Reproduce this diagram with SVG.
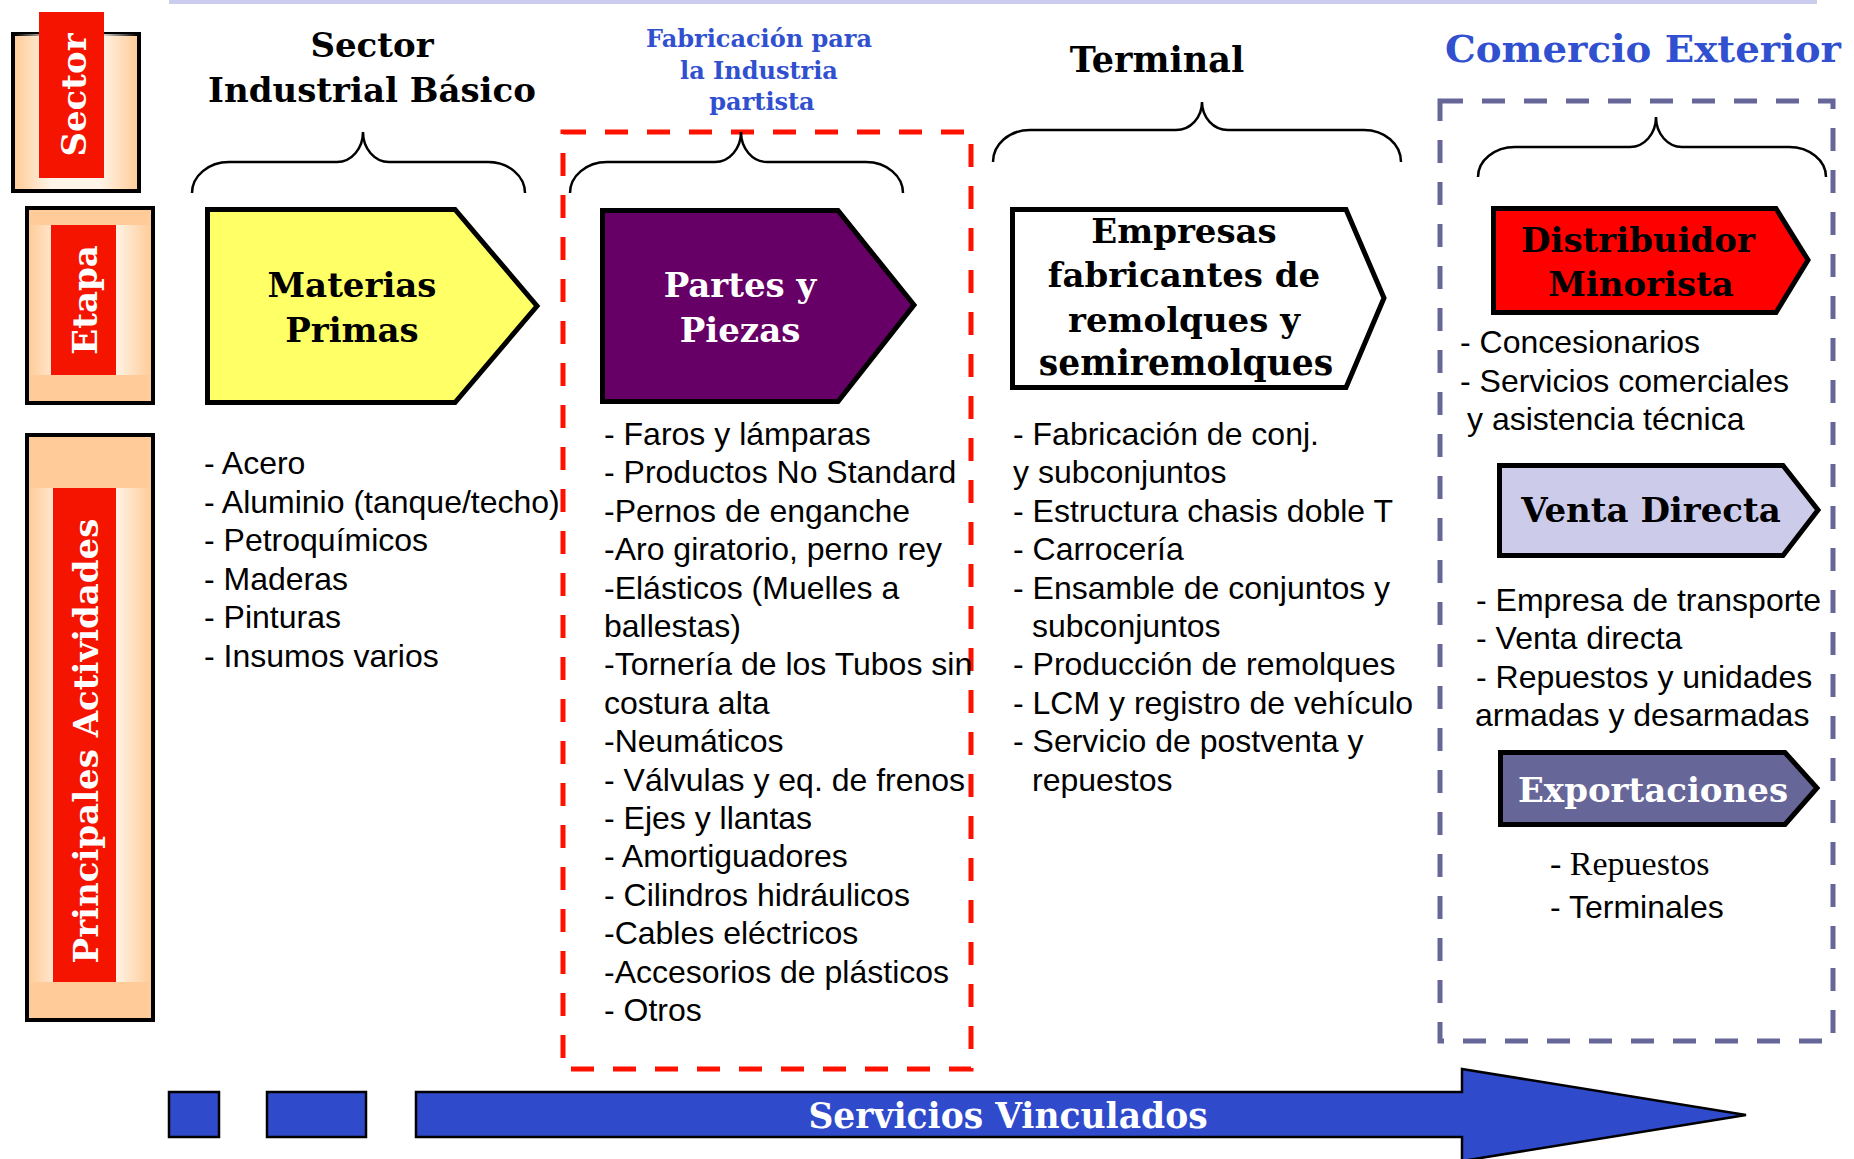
<svg xmlns="http://www.w3.org/2000/svg" width="1854" height="1159" viewBox="0 0 1854 1159">
<defs>
<linearGradient id="halo" x1="0" y1="0" x2="1" y2="0">
<stop offset="0" stop-color="#fff6ec" stop-opacity="0"/>
<stop offset="0.3" stop-color="#fff6ec" stop-opacity="0.95"/>
<stop offset="0.7" stop-color="#fff6ec" stop-opacity="0.95"/>
<stop offset="1" stop-color="#fff6ec" stop-opacity="0"/>
</linearGradient>
<style>
.lbl{fill:#ffcc99;stroke:#000;stroke-width:4}
.red{fill:#f41400}
.rot{font-family:"DejaVu Serif",serif;font-weight:bold;font-size:34px;fill:#fff;text-anchor:middle}
.hd{font-family:"DejaVu Serif",serif;font-weight:bold;font-size:34px;fill:#000;text-anchor:middle}
.blue{font-family:"DejaVu Serif",serif;font-weight:bold;font-size:24px;fill:#3050d0;text-anchor:middle}
.box{stroke:#000;stroke-width:5;stroke-linejoin:miter}
.ls{font-family:"Liberation Sans",Arial,sans-serif;font-size:32px;fill:#000}
.lsr{font-family:"Liberation Serif","Times New Roman",serif;font-size:34px;fill:#000}
.brace{fill:none;stroke:#000;stroke-width:2.5}
.dash{fill:none;stroke-width:5;stroke-dasharray:23 19}
</style>
</defs>
<rect x="0" y="0" width="1854" height="1159" fill="#fff"/>
<rect x="169" y="0" width="1648" height="4" fill="#ccccee"/>

<g id="frames">
<rect x="563" y="132" width="408" height="937" class="dash" stroke="#ff1100"/>
<rect x="1440" y="101" width="393" height="940" class="dash" stroke="#666699"/>
</g>

<g id="label-sector">
<rect x="13" y="34" width="126" height="157" class="lbl"/>
<rect x="15" y="34" width="122" height="155" fill="url(#halo)"/>
<rect x="39" y="12" width="65" height="166" class="red"/>
<text class="rot" transform="translate(86,95) rotate(-90)">Sector</text>
</g>
<g id="label-etapa">
<rect x="27" y="208" width="126" height="195" class="lbl"/>
<rect x="29" y="225" width="122" height="150" fill="url(#halo)"/>
<rect x="51" y="225" width="65" height="150" class="red"/>
<text class="rot" transform="translate(97,300) rotate(-90)">Etapa</text>
</g>
<g id="label-actividades">
<rect x="27" y="435" width="126" height="585" class="lbl"/>
<rect x="29" y="488" width="122" height="494" fill="url(#halo)"/>
<rect x="53" y="488" width="63" height="494" class="red"/>
<text class="rot" transform="translate(98,741) rotate(-90)">Principales Actividades</text>
</g>

<g id="header-basico">
<text class="hd" x="372" y="57">Sector</text>
<text class="hd" x="372" y="102">Industrial Básico</text>
</g>
<g id="header-partista">
<text class="blue" x="759" y="47">Fabricación para</text>
<text class="blue" x="759" y="79">la Industria</text>
<text class="blue" x="762" y="110">partista</text>
</g>
<g id="header-terminal">
<text class="hd" x="1157" y="72" style="font-size:35px">Terminal</text>
</g>
<g id="header-comercio">
<text x="1445" y="62" textLength="396" lengthAdjust="spacingAndGlyphs" style="font-family:'DejaVu Serif',serif;font-weight:bold;font-size:38px;fill:#3050d0">Comercio Exterior</text>
</g>

<g id="connectors">
<path class="brace" d="M192,193 C192,175.9 208.6,162 229,162 L337,162 C351.4,162 363,148.6 363,132 C363,148.6 374.6,162 389,162 L488,162 C508.4,162 525,175.9 525,193"/>
<path class="brace" d="M570,193 C570,175.9 586.6,162 607,162 L715,162 C729.4,162 741,148.6 741,132 C741,148.6 752.6,162 767,162 L866,162 C886.4,162 903,175.9 903,193"/>
<path class="brace" d="M993,162 C993,144 1009.6,130 1030,130 L1176,130 C1190.4,130 1202,117.5 1202,102 C1202,117.5 1213.6,130 1228,130 L1364,130 C1384.4,130 1401,144 1401,162"/>
<path class="brace" d="M1478,177 C1478,160.4 1494.6,147 1515,147 L1630,147 C1644.4,147 1656,133.6 1656,117 C1656,133.6 1667.6,147 1682,147 L1789,147 C1809.4,147 1826,160.4 1826,177"/>
</g>

<g id="node-materias">
<path class="box" fill="#ffff66" d="M207.5,209.5 L455,209.5 L537,306 L455,402.5 L207.5,402.5 Z"/>
<text class="hd" x="352" y="297">Materias</text>
<text class="hd" x="352" y="342">Primas</text>
</g>
<g id="node-partes">
<path class="box" fill="#660066" d="M602.5,210.5 L838,210.5 L914,305 L838,401.5 L602.5,401.5 Z"/>
<text class="hd" x="740" y="297" style="fill:#fff">Partes y</text>
<text class="hd" x="740" y="342" style="fill:#fff">Piezas</text>
</g>
<g id="node-empresas">
<path class="box" fill="#fff" d="M1012.5,209.5 L1346,209.5 L1384,298 L1346,387.5 L1012.5,387.5 Z"/>
<text class="hd" x="1184" y="243">Empresas</text>
<text class="hd" x="1184" y="287">fabricantes de</text>
<text class="hd" x="1184" y="332">remolques y</text>
<text class="hd" x="1186" y="375" style="font-size:34.5px">semiremolques</text>
</g>
<g id="node-distribuidor">
<path class="box" fill="#ff0000" d="M1493.5,208.5 L1776,208.5 L1808,260 L1776,312.5 L1493.5,312.5 Z"/>
<text class="hd" x="1638" y="252">Distribuidor</text>
<text class="hd" x="1641" y="296">Minorista</text>
</g>
<g id="node-venta">
<path class="box" fill="#ccccea" d="M1499.5,465.5 L1783,465.5 L1818,510 L1783,555.5 L1499.5,555.5 Z"/>
<text class="hd" x="1651" y="522">Venta Directa</text>
</g>
<g id="node-export">
<path class="box" fill="#666699" d="M1500.5,752.5 L1785,752.5 L1817,788 L1785,824.5 L1500.5,824.5 Z"/>
<text class="hd" x="1653" y="802" style="fill:#fff">Exportaciones</text>
</g>

<g id="list-materias" class="ls">
<text x="204" y="474">- Acero</text>
<text x="204" y="512.5">- Aluminio (tanque/techo)</text>
<text x="204" y="551">- Petroquímicos</text>
<text x="204" y="589.5">- Maderas</text>
<text x="204" y="628">- Pinturas</text>
<text x="204" y="666.5">- Insumos varios</text>
</g>
<g id="list-partes" class="ls">
<text x="604" y="445">- Faros y lámparas</text>
<text x="604" y="483.4">- Productos No Standard</text>
<text x="604" y="521.8">-Pernos de enganche</text>
<text x="604" y="560.2">-Aro giratorio, perno rey</text>
<text x="604" y="598.6">-Elásticos (Muelles a</text>
<text x="604" y="637">ballestas)</text>
<text x="604" y="675.4">-Tornería de los Tubos sin</text>
<text x="604" y="713.8">costura alta</text>
<text x="604" y="752.2">-Neumáticos</text>
<text x="604" y="790.6">- Válvulas y eq. de frenos</text>
<text x="604" y="829">- Ejes y llantas</text>
<text x="604" y="867.4">- Amortiguadores</text>
<text x="604" y="905.8">- Cilindros hidráulicos</text>
<text x="604" y="944.2">-Cables eléctricos</text>
<text x="604" y="982.6">-Accesorios de plásticos</text>
<text x="604" y="1021">- Otros</text>
</g>
<g id="list-terminal" class="ls">
<text x="1013" y="445">- Fabricación de conj.</text>
<text x="1013" y="483.4">y subconjuntos</text>
<text x="1013" y="521.8">- Estructura chasis doble T</text>
<text x="1013" y="560.2">- Carrocería</text>
<text x="1013" y="598.6">- Ensamble de conjuntos y</text>
<text x="1032" y="637">subconjuntos</text>
<text x="1013" y="675.4">- Producción de remolques</text>
<text x="1013" y="713.8">- LCM y registro de vehículo</text>
<text x="1013" y="752.2">- Servicio de postventa y</text>
<text x="1032" y="790.6">repuestos</text>
</g>
<g id="list-distribuidor" class="ls">
<text x="1460" y="353">- Concesionarios</text>
<text x="1460" y="391.5">- Servicios comerciales</text>
<text x="1467" y="430">y asistencia técnica</text>
</g>
<g id="list-venta" class="ls">
<text x="1476" y="611">- Empresa de transporte</text>
<text x="1476" y="649">- Venta directa</text>
<text x="1476" y="687.5">- Repuestos y unidades</text>
<text x="1475" y="726">armadas y desarmadas</text>
</g>
<g id="list-export">
<text class="lsr" x="1550" y="875">- Repuestos</text>
<text class="ls" x="1550" y="918">- Terminales</text>
</g>

<g id="node-servicios">
<rect x="169" y="1092" width="50" height="45" fill="#2f4bcc" stroke="#000" stroke-width="2.5"/>
<rect x="267" y="1092" width="99" height="45" fill="#2f4bcc" stroke="#000" stroke-width="2.5"/>
<path d="M416,1092 L1462,1092 L1462,1069 L1746,1115 L1462,1161 L1462,1137 L416,1137 Z" fill="#2f4bcc" stroke="#000" stroke-width="2.5"/>
<text x="1008" y="1128" style="font-family:'DejaVu Serif',serif;font-weight:bold;font-size:34.5px;fill:#fff;text-anchor:middle">Servicios Vinculados</text>
</g>
</svg>
